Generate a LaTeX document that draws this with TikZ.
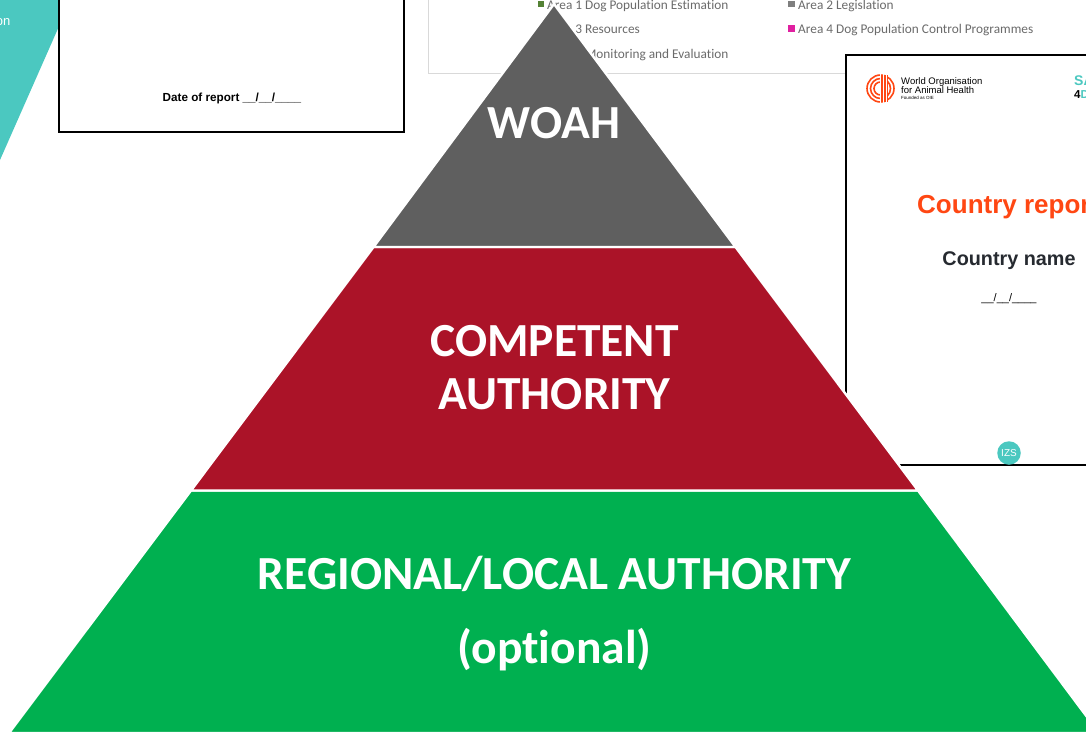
\documentclass[tikz,border=0pt]{standalone}
\usepackage{fontspec}
\setmainfont{Carlito}[Ligatures=NoCommon]
\newfontfamily\arialf{Liberation Sans}
\definecolor{teal1}{HTML}{4BC8C0}
\definecolor{grayp}{HTML}{5F5F5F}
\definecolor{redp}{HTML}{AB1328}
\definecolor{greenp}{HTML}{00B050}
\definecolor{orangew}{HTML}{FF4713}
\definecolor{legendt}{HTML}{6B6B6B}
\definecolor{framel}{HTML}{D9D9D9}
\definecolor{darkt}{HTML}{262A30}
\definecolor{swgreen}{HTML}{548235}
\definecolor{swgray}{HTML}{7F7F7F}
\definecolor{swpink}{HTML}{E020A0}
\tikzset{
  tier/.style={draw=white,line width=2.4pt,line join=miter},
  tiertext/.style={text=white,font=\bfseries\fontsize{47.5}{47.5}\selectfont,inner sep=0pt,anchor=center},
  legtext/.style={text=legendt,font=\fontsize{13.3}{13.3}\selectfont,inner sep=0pt,anchor=base west},
  sheet/.style={draw=black,line width=2pt,fill=white},
  rep/.style={font=\arialf\bfseries,inner sep=0pt,anchor=center},
  swatch/.style={minimum size=6.5pt,inner sep=0pt,anchor=center}
}
\begin{document}
\begin{tikzpicture}[x=1pt,y=-1pt]
\useasboundingbox (0,0) rectangle (1086,731);
\clip (0,0) rectangle (1086,731);
\fill[white] (0,0) rectangle (1086,731);
% teal band
\fill[teal1] (0,0) -- (60,0) -- (60,24) -- (0,160) -- cycle;
\node[text=white,font=\arialf\fontsize{13}{13}\selectfont,inner sep=0pt,anchor=base east] (tealtxt) at (10.5,25) {on};
% left report
\draw[sheet] (58.5,-5) rectangle (404,132);
\node[rep,font=\arialf\bfseries\fontsize{11.7}{11.7}\selectfont,anchor=base] (datep) at (232,101) {Date of report \_\_/\_\_/\_\_\_\_};
% legend frame
\draw[framel,line width=0.8pt,fill=white] (428,-5) rectangle (1100,73);
\node[swatch,fill=swgreen] (s1) at (541,4) {};
\node[legtext] (l1) at (547,9) {Area 1 Dog Population Estimation};
\node[swatch,fill=swgray] (s2) at (791.5,4) {};
\node[legtext] (l2) at (798,9) {Area 2 Legislation};
\node[legtext] (l3) at (547,33) {Area 3 Resources};
\node[swatch,fill=swpink] (s4) at (791.5,28.5) {};
\node[legtext] (l4) at (798,33) {Area 4 Dog Population Control Programmes};
\node[legtext] (l5) at (547,58) {Area 5 Monitoring and Evaluation};
% right report
\draw[sheet] (846,54.5) rectangle (1100,465);
\foreach \r in {13.5,10,6.5}{\draw[orangew,line width=1.6pt] (880.5,88.5) circle (\r);}
\fill[orangew] (881,75) rectangle (888,102);
\foreach \xx in {883.3,886.3}{\fill[white] (\xx,73) rectangle ++(0.7,31);}
\fill[white] (880.4,73) rectangle (881.4,104);
\node[font=\arialf\fontsize{9.5}{9.6}\selectfont,align=left,inner sep=0pt,anchor=north west] (woahname) at (901,77) {World Organisation\\for Animal Health};
\node[font=\arialf\fontsize{4.5}{4.5}\selectfont,inner sep=0pt,anchor=north west] (founded) at (901,96) {Founded as OIE};
\node[text=teal1,font=\arialf\bfseries\fontsize{14}{14}\selectfont,inner sep=0pt,anchor=base west] (sa) at (1074,85) {SA};
\node[font=\arialf\bfseries\fontsize{11.5}{11.5}\selectfont,inner sep=0pt,anchor=base west] (four) at (1074,98) {4\textcolor{teal1}{D}};
\node[rep,text=orangew,font=\arialf\bfseries\fontsize{26}{26}\selectfont,anchor=base west] (crep) at (917,213) {Country report};
\node[rep,text=darkt,font=\arialf\bfseries\fontsize{19.8}{19.8}\selectfont] (cname) at (1009,261) {Country name};
\node[font=\arialf\fontsize{11}{11}\selectfont,inner sep=0pt,anchor=base] (cdate) at (1009,301) {\_\_/\_\_/\_\_\_\_};
\node[circle,fill=teal1,text=white,minimum size=23.5pt,inner sep=0pt,font=\arialf\fontsize{10}{10}\selectfont] (izs) at (1009,453) {IZS};
% pyramid
\coordinate (apex) at (554,4);
\draw[tier,fill=greenp] (191,490.5) -- (918,490.5) -- (1099,733) -- (9,733) -- cycle;
\draw[tier,fill=redp] (373.5,247) -- (735.5,247) -- (918,490.5) -- (191,490.5) -- cycle;
\draw[tier,fill=grayp] (apex) -- (735.5,247) -- (373.5,247) -- cycle;
\node[tiertext] (woah) at (554,123.5) {WOAH};
\node[tiertext,align=center,font=\bfseries\fontsize{47.5}{53}\selectfont] (ca) at (554.5,368) {COMPETENT\\AUTHORITY};
\node[tiertext] (rla) at (554.5,574) {REGIONAL/LOCAL AUTHORITY};
\node[tiertext] (opt) at (554.5,649.5) {(optional)};
\end{tikzpicture}
\end{document}
